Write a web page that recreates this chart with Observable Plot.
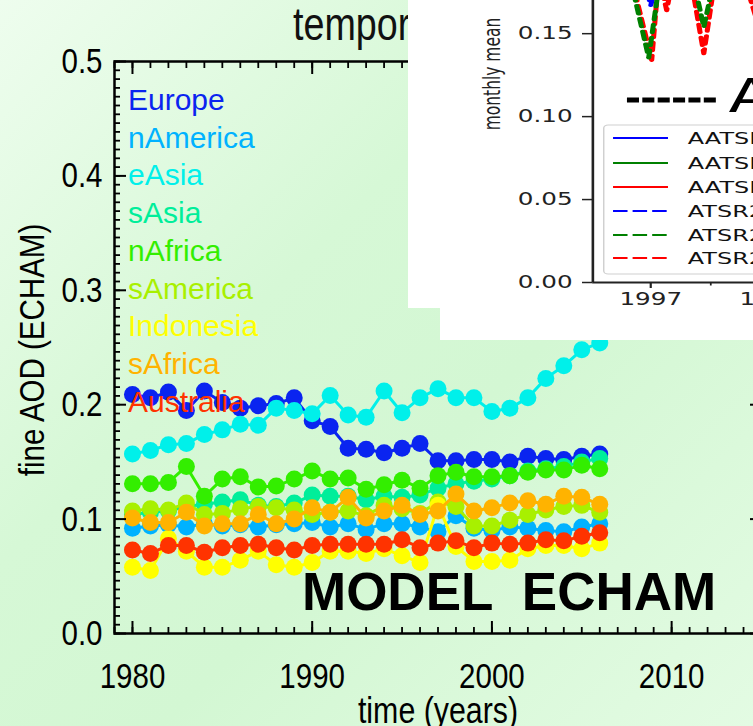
<!DOCTYPE html>
<html><head><meta charset="utf-8">
<script src="https://cdn.jsdelivr.net/npm/d3@7"></script>
<script src="https://cdn.jsdelivr.net/npm/@observablehq/plot@0.6"></script>
<style>
html,body{margin:0;padding:0;overflow:hidden;background:#e4fbe4;}
#stage{position:relative;width:753px;height:726px;overflow:hidden;
 background:linear-gradient(135deg,#eefdee 0%,#d6f8d6 38%,#d3f7d3 60%,#e3fbe3 100%);}
#stage > *{position:absolute;left:0;top:0;}
</style></head><body><div id="stage"></div>
<script>
// ---------- main chart data (fine AOD, ECHAM, annual means) ----------
const years = [1980,1981,1982,1983,1984,1985,1986,1987,1988,1989,1990,1991,1992,1993,1994,1995,1996,1997,1998,1999,2000,2001,2002,2003,2004,2005,2006];
const regions = ["Europe","nAmerica","eAsia","sAsia","nAfrica","sAmerica","Indonesia","sAfrica","Australia"];
const regionColors = ["#0a24f0","#00b2ff","#00f0ea","#00ee9a","#33ee00","#a8f000","#ffff00","#ffb300","#ff3300"];
const europe    = [0.209,0.206,0.211,0.195,0.212,0.202,0.197,0.199,0.201,0.206,0.186,0.181,0.162,0.161,0.158,0.162,0.166,0.151,0.151,0.152,0.152,0.150,0.155,0.153,0.152,0.155,0.157];
const nAmerica  = [0.092,0.094,0.095,0.093,0.096,0.094,0.095,0.093,0.095,0.096,0.097,0.093,0.096,0.091,0.096,0.096,0.093,0.089,0.103,0.092,0.090,0.093,0.092,0.090,0.089,0.093,0.096];
const eAsia     = [0.157,0.160,0.165,0.166,0.174,0.178,0.183,0.182,0.197,0.195,0.192,0.208,0.191,0.189,0.212,0.193,0.206,0.214,0.206,0.206,0.194,0.197,0.206,0.223,0.234,0.248,0.254];
const sAsia     = [0.104,0.106,0.107,0.111,0.113,0.115,0.117,0.112,0.111,0.114,0.121,0.120,0.120,0.117,0.120,0.119,0.121,0.127,0.131,0.133,0.135,0.138,0.142,0.144,0.146,0.150,0.153];
const nAfrica   = [0.131,0.131,0.132,0.146,0.120,0.135,0.137,0.128,0.129,0.135,0.142,0.135,0.136,0.126,0.130,0.134,0.127,0.138,0.141,0.137,0.137,0.138,0.141,0.143,0.143,0.147,0.144];
const sAmerica  = [0.107,0.109,0.108,0.114,0.104,0.105,0.109,0.111,0.110,0.108,0.104,0.106,0.107,0.103,0.112,0.109,0.105,0.115,0.111,0.094,0.094,0.099,0.104,0.108,0.111,0.112,0.106];
const indonesia = [0.058,0.055,0.083,0.072,0.058,0.058,0.064,0.072,0.060,0.058,0.062,0.072,0.072,0.070,0.074,0.068,0.062,0.112,0.076,0.063,0.063,0.064,0.074,0.077,0.077,0.074,0.079];
const sAfrica   = [0.101,0.097,0.097,0.106,0.094,0.096,0.096,0.104,0.096,0.100,0.110,0.106,0.119,0.101,0.107,0.112,0.104,0.107,0.122,0.107,0.110,0.114,0.116,0.113,0.120,0.119,0.113];
const australia = [0.073,0.070,0.077,0.077,0.071,0.075,0.077,0.078,0.075,0.073,0.077,0.078,0.078,0.078,0.078,0.082,0.075,0.079,0.081,0.075,0.079,0.078,0.079,0.082,0.081,0.085,0.088];
const seriesList = [europe,nAmerica,eAsia,sAsia,nAfrica,sAmerica,indonesia,sAfrica,australia];
const xMajorTicks = [1980,1990,2000,2010];
const yMajorTicks = [0,0.1,0.2,0.3,0.4,0.5];

// ---------- inset data (monthly mean, partially visible) ----------
const insetBlueT  = [1996.917,1997.0,1997.083];
const insetBlueV  = [0.19,0.167,0.19];
const insetRedT   = [1996.817,1997.008,1997.067,1997.133,1997.2,1997.317,1997.442,1997.55,1997.708,1997.917];
const insetRedV   = [0.19,0.134,0.185,0.164,0.19,0.19,0.138,0.19,0.2,0.15];
const insetGreenT = [1996.808,1996.983,1997.1,1997.333,1997.442,1997.55,1997.792];
const insetGreenV = [0.19,0.1355,0.195,0.19,0.154,0.19,0.2];
const insetTicksY = [0,0.05,0.10,0.15];
const insetTicksX = [1997,1998];
const insetLegend = ["AATSR ADV","AATSR ORAC","AATSR SU","ATSR2 ADV","ATSR2 ORAC","ATSR2 SU"];
const insetLegendColors = ["#0000ff","#008000","#ff0000","#0000ff","#008000","#ff0000"];
const insetLegendDashed = [false,false,false,true,true,true];

const SANS = "'Liberation Sans',Arial,Helvetica,sans-serif";
const NARROWK = 0.82; // horizontal squeeze to imitate the narrow Helvetica of the original
const stage = document.getElementById("stage");

function squeeze(el, k){
  const xa = el.getAttribute("x");
  let pre = "";
  if (xa !== null && /^-?[\d.]+$/.test(xa)) { pre = ` translate(${xa},0)`; el.removeAttribute("x"); }
  const t = el.getAttribute("transform") || "";
  el.setAttribute("transform", `${t}${pre} scale(${k},1)`);
}

// ---------- main plot ----------
const rows = [];
regions.forEach((r,i)=>seriesList[i].forEach((v,j)=>rows.push({region:r, year:years[j], aod:v})));
const marks = [];
regions.forEach((r,i)=>{
  const d = rows.filter(o=>o.region===r);
  marks.push(Plot.line(d,{x:"year",y:"aod",stroke:regionColors[i],strokeWidth:3}));
  marks.push(Plot.dot(d,{x:"year",y:"aod",fill:regionColors[i],r:8.5}));
});
regions.forEach((r,i)=>{
  marks.push(Plot.text([r],{frameAnchor:"top-left",dx:13.5,dy:27+i*37.75,text:d=>d,fill:regionColors[i],
    fontSize:30,fontFamily:SANS,textAnchor:"start",lineAnchor:"top"}));
});
const xMinor = d3.range(1979,2016);
const yMinor = d3.range(0,0.5001,0.1/13);
const blank = ()=>"";
marks.push(
  Plot.frame({stroke:"black",strokeWidth:2.5}),
  Plot.axisX(xMinor,{anchor:"bottom",tickSize:-6,tickFormat:blank,strokeWidth:1.8,label:null}),
  Plot.axisX(xMajorTicks,{anchor:"bottom",tickSize:-12,tickPadding:41,tickFormat:d=>String(d),strokeWidth:2,label:null}),
  Plot.axisX(xMinor,{anchor:"top",tickSize:-6,tickFormat:blank,strokeWidth:1.8,label:null}),
  Plot.axisX(xMajorTicks,{anchor:"top",tickSize:-12,tickFormat:blank,strokeWidth:2,label:null}),
  Plot.axisY(yMinor,{anchor:"left",tickSize:-6,tickFormat:blank,strokeWidth:1.8,label:null}),
  Plot.axisY(yMajorTicks,{anchor:"left",tickSize:-12,tickPadding:24,tickFormat:d3.format(".1f"),strokeWidth:2,label:null}),
  Plot.axisY(yMinor,{anchor:"right",tickSize:-6,tickFormat:blank,strokeWidth:1.8,label:null}),
  Plot.axisY(yMajorTicks,{anchor:"right",tickSize:-12,tickFormat:blank,strokeWidth:2,label:null})
);
const main = Plot.plot({
  width:764, height:726,
  marginLeft:114, marginRight:3, marginTop:61, marginBottom:93,
  x:{domain:[1979,2015]},
  y:{domain:[0,0.5]},
  style:{background:"transparent",fontFamily:SANS,fontSize:"36px",color:"black",maxWidth:"none",overflow:"visible"},
  marks
});
main.style.maxWidth="none";
main.querySelectorAll('g[aria-label="x-axis tick label"] text, g[aria-label="y-axis tick label"] text')
  .forEach(el=>squeeze(el,NARROWK));
stage.appendChild(main);

// ---------- annotation texts ----------
const ann = d3.select(stage).append("svg").attr("width",753).attr("height",726)
  .style("pointer-events","none");
ann.append("text").attr("transform",`translate(293,40) scale(${NARROWK},1)`).attr("text-anchor","start")
  .attr("font-family",SANS).attr("font-size",46).attr("fill","#111").text("temporal evolution");
ann.append("text").attr("transform",`translate(31,350) rotate(-90) scale(${NARROWK},1)`).attr("text-anchor","middle")
  .attr("dominant-baseline","central").attr("font-family",SANS).attr("font-size",36).text("fine AOD (ECHAM)");
ann.append("text").attr("transform",`translate(438,723) scale(${NARROWK},1)`).attr("text-anchor","middle")
  .attr("font-family",SANS).attr("font-size",37).text("time (years)");
ann.append("text").attr("x",302).attr("y",610).attr("text-anchor","start").attr("xml:space","preserve").style("white-space","pre")
  .attr("font-family",SANS).attr("font-weight","bold").attr("font-size",53)
  .attr("fill","black").text("MODEL  ECHAM");

// ---------- inset ----------
const w1 = document.createElement("div");
Object.assign(w1.style,{left:"408px",top:"0px",width:"345px",height:"308px",background:"white"});
stage.appendChild(w1);
const w2 = document.createElement("div");
Object.assign(w2.style,{left:"440px",top:"300px",width:"313px",height:"40px",background:"white"});
stage.appendChild(w2);

const mk = (T,V,name)=>T.map((t,i)=>({t,v:V[i],name}));
const blue = mk(insetBlueT,insetBlueV,"blue"), red = mk(insetRedT,insetRedV,"red"), green = mk(insetGreenT,insetGreenV,"green");
const inset = Plot.plot({
  width:320, height:340,
  marginLeft:127, marginRight:0, marginTop:0, marginBottom:58,
  x:{domain:[1996.518,1998.849]},
  y:{domain:[0,0.17]},
  style:{background:"transparent",fontFamily:"'DejaVu Sans',sans-serif",fontSize:"17px",color:"#222",maxWidth:"none"},
  marks:[
    Plot.line(blue,{x:"t",y:"v",stroke:"#0000ff",strokeWidth:3.5,strokeDasharray:"8,5",clip:true}),
    Plot.line(red,{x:"t",y:"v",stroke:"#ff0000",strokeWidth:3.5,strokeDasharray:"8,5",clip:true}),
    Plot.line(green,{x:"t",y:"v",stroke:"#008000",strokeWidth:3.5,strokeDasharray:"8,5",clip:true}),
    Plot.ruleX([1996.518],{stroke:"#222",strokeWidth:1.8}),
    Plot.ruleY([0],{stroke:"#222",strokeWidth:1.8}),
    Plot.axisY(insetTicksY,{anchor:"left",tickSize:7,tickPadding:7,tickFormat:d3.format(".2f"),strokeWidth:1.5,label:null}),
    Plot.axisX(insetTicksX,{anchor:"bottom",tickSize:6,tickPadding:4,tickFormat:d=>String(d),strokeWidth:1.5,label:null}),
    Plot.axisX([1997.5],{anchor:"bottom",tickSize:3.5,tickFormat:blank,strokeWidth:1.2,label:null})
  ]
});
inset.style.maxWidth="none";
inset.style.left="408px";
inset.style.transformOrigin="0 0";
inset.style.transform="scaleX(1.45)";
stage.appendChild(inset);
const ins = d3.select(inset);
ins.append("text").attr("transform","translate(58,74) rotate(-90)").attr("text-anchor","middle")
  .attr("dominant-baseline","central").attr("font-size",15.5).attr("fill","#222").text("monthly mean");
ins.append("line").attr("x1",151).attr("x2",213).attr("y1",100).attr("y2",100)
  .attr("stroke","black").attr("stroke-width",5).attr("stroke-dasharray","8.3,2.3");
ins.append("text").attr("x",221).attr("y",112).attr("text-anchor","start").attr("font-size",46)
  .attr("fill","black").text("AATSR");
const lg = ins.append("g");
lg.append("rect").attr("x",135).attr("y",125).attr("width",170).attr("height",149).attr("rx",3)
  .attr("fill","white").attr("fill-opacity",0.85).attr("stroke","#d0d0d0").attr("stroke-width",1);
const legendRowsY = [138,163,187,211,235,258];
insetLegend.forEach((name,i)=>{
  const y = legendRowsY[i];
  lg.append("line").attr("x1",141.4).attr("x2",179.3).attr("y1",y).attr("y2",y)
    .attr("stroke",insetLegendColors[i]).attr("stroke-width",2)
    .attr("stroke-dasharray",insetLegendDashed[i]?"10,3.5":null);
  lg.append("text").attr("x",193).attr("y",y).attr("text-anchor","start").attr("dominant-baseline","central")
    .attr("font-size",16.5).attr("fill","#111").text(name);
});
</script></body></html>
